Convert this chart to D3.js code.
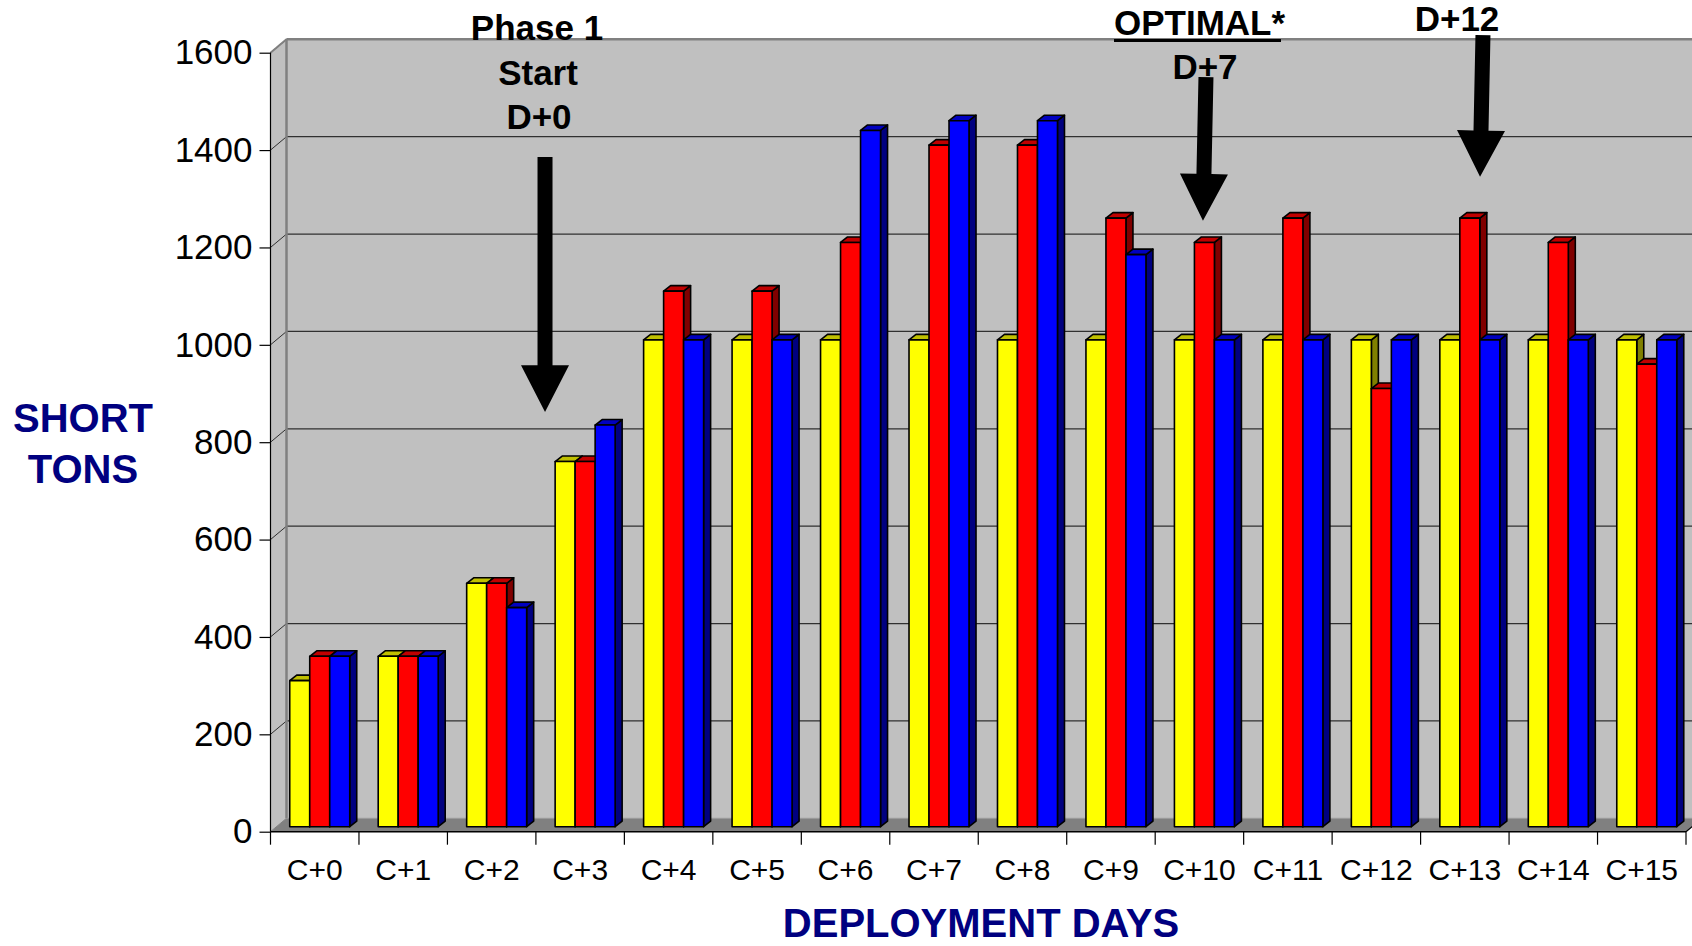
<!DOCTYPE html>
<html>
<head>
<meta charset="utf-8">
<script src="https://cdn.jsdelivr.net/npm/d3@7"></script>
<style>
  html, body { margin: 0; padding: 0; background: #ffffff; }
  svg { display: block; }
  text { font-family: "Liberation Sans", Arial, sans-serif; }
</style>
</head>
<body>
<svg id="chart" width="1692" height="946"></svg>
<script>
// ---------------- data ----------------
const categories = ["C+0","C+1","C+2","C+3","C+4","C+5","C+6","C+7","C+8","C+9","C+10","C+11","C+12","C+13","C+14","C+15"];
const seriesKeys = ["yellow","red","blue"];
const yellowValues = [300,350,500,750,1000,1000,1000,1000,1000,1000,1000,1000,1000,1000,1000,1000];
const redValues    = [350,350,500,750,1100,1100,1200,1400,1400,1250,1200,1250,900,1250,1200,950];
const blueValues   = [350,350,450,825,1000,1000,1430,1450,1450,1175,1000,1000,1000,1000,1000,1000];
const yTickValues  = [0,200,400,600,800,1000,1200,1400,1600];
const yTitleLines  = ["SHORT","TONS"];
const xTitle       = "DEPLOYMENT DAYS";

// annotation arrows in data units (category position, value)
const arrowTopCat  = [3.103, 10.574, 13.705];
const arrowTopVal  = [1386, 1550, 1636];
const arrowTipCat  = [3.103, 10.54, 13.672];
const arrowTipVal  = [862, 1255, 1345];
const arrowHeadVal = [958, 1351, 1440];

// ---------------- layout ----------------
const frontLeft = 270.5, frontRight = 1686;
const frontBottom = 831.7, frontTop = 52.7;
const wallDX = 16, wallDY = 13.4;
const barDX = 7, barDY = 5.5;          // bar depth
const barShiftX = 5, barShiftY = 5;    // bar placed a bit inside the floor
const barW = 20;

const colors = {
  yellow: {front:"#FFFF00", top:"#C0C000", side:"#808000"},
  red:    {front:"#FF0000", top:"#C00000", side:"#800000"},
  blue:   {front:"#0000FF", top:"#0000C0", side:"#000080"}
};
const valuesBySeries = {yellow: yellowValues, red: redValues, blue: blueValues};

const svg = d3.select("#chart");

const x = d3.scaleBand().domain(categories).range([frontLeft, frontRight]).padding(0);
const xs = d3.scaleBand().domain(seriesKeys).range([0, barW*3]).padding(0);
const y = d3.scaleLinear().domain([0,1600]).range([frontBottom, frontTop]);
const catPos = d3.scaleLinear().domain([0, categories.length]).range([frontLeft, frontRight]);

// ---------------- walls & floor ----------------
const wallLeft = frontLeft + wallDX, wallTop = frontTop - wallDY, wallBottom = frontBottom - wallDY;

svg.append("rect")
  .attr("x", wallLeft).attr("y", wallTop)
  .attr("width", 1800 - wallLeft).attr("height", wallBottom - wallTop)
  .attr("fill", "#C0C0C0");
svg.append("polygon")
  .attr("points", [[frontLeft, frontTop],[wallLeft, wallTop],[wallLeft, wallBottom],[frontLeft, frontBottom]].join(" "))
  .attr("fill", "#C0C0C0").attr("stroke", "#808080").attr("stroke-width", 1);
svg.append("polygon")
  .attr("points", [[frontLeft, frontBottom],[wallLeft, wallBottom],[frontRight + wallDX, wallBottom],[frontRight, frontBottom]].join(" "))
  .attr("fill", "#808080");

const grid = svg.append("g");
yTickValues.filter(v => v > 0).forEach(v => {
  if (v < 1600) {
    grid.append("line")
      .attr("x1", wallLeft).attr("x2", 1800)
      .attr("y1", y(v) - wallDY).attr("y2", y(v) - wallDY)
      .attr("stroke", "#303030").attr("stroke-width", 1.2);
  }
  grid.append("line")
    .attr("x1", frontLeft).attr("y1", y(v))
    .attr("x2", wallLeft).attr("y2", y(v) - wallDY)
    .attr("stroke", "#303030").attr("stroke-width", 1);
});
svg.append("line").attr("x1", wallLeft).attr("x2", 1800).attr("y1", wallTop).attr("y2", wallTop)
  .attr("stroke", "#808080").attr("stroke-width", 2.5);
svg.append("line").attr("x1", wallLeft).attr("x2", wallLeft).attr("y1", wallTop).attr("y2", wallBottom)
  .attr("stroke", "#808080").attr("stroke-width", 2.5);
svg.append("line").attr("x1", frontLeft).attr("x2", wallLeft).attr("y1", frontTop).attr("y2", wallTop)
  .attr("stroke", "#808080").attr("stroke-width", 2);
svg.append("line").attr("x1", wallLeft).attr("x2", frontRight + wallDX).attr("y1", wallBottom).attr("y2", wallBottom)
  .attr("stroke", "#999999").attr("stroke-width", 1);

// ---------------- bars ----------------
const bars = svg.append("g");
const groupOffset = (x.bandwidth() - barW*3) / 2 + barShiftX;
categories.forEach((c, i) => {
  seriesKeys.forEach(k => {
    const v = valuesBySeries[k][i];
    const bx = x(c) + groupOffset + xs(k);
    const bw = xs.bandwidth();
    const yt = y(v) - barShiftY, yb = y(0) - barShiftY;
    const col = colors[k];
    const g = bars.append("g")
      .attr("stroke", "#000").attr("stroke-width", 1.6).attr("stroke-linejoin", "round");
    g.append("polygon")
      .attr("points", [[bx+bw, yt],[bx+bw+barDX, yt-barDY],[bx+bw+barDX, yb-barDY],[bx+bw, yb]].join(" "))
      .attr("fill", col.side);
    g.append("polygon")
      .attr("points", [[bx, yt],[bx+bw, yt],[bx+bw+barDX, yt-barDY],[bx+barDX, yt-barDY]].join(" "))
      .attr("fill", col.top);
    g.append("rect")
      .attr("x", bx).attr("y", yt).attr("width", bw).attr("height", yb - yt)
      .attr("fill", col.front);
  });
});

// ---------------- axes ----------------
svg.append("line").attr("x1", frontLeft).attr("x2", frontLeft).attr("y1", frontTop).attr("y2", frontBottom)
  .attr("stroke", "#000").attr("stroke-width", 1.2);
const yAxis = d3.axisLeft(y).tickValues(yTickValues).tickSize(11).tickPadding(7).tickFormat(d3.format("d"));
const yg = svg.append("g").attr("transform", `translate(${frontLeft},0)`).call(yAxis);
yg.select(".domain").remove();
yg.selectAll(".tick line").attr("stroke", "#000").attr("stroke-width", 1.2);
yg.selectAll(".tick text").attr("font-size", 35).attr("fill", "#000")
  .attr("font-family", "'Liberation Sans', Arial, sans-serif");

svg.append("line").attr("x1", frontLeft).attr("x2", frontRight).attr("y1", frontBottom).attr("y2", frontBottom)
  .attr("stroke", "#000").attr("stroke-width", 1.5);
svg.append("line").attr("x1", frontRight).attr("x2", frontRight + wallDX).attr("y1", frontBottom).attr("y2", wallBottom)
  .attr("stroke", "#000").attr("stroke-width", 1.2);
d3.range(categories.length + 1).forEach(i => {
  svg.append("line").attr("x1", catPos(i)).attr("x2", catPos(i))
    .attr("y1", frontBottom).attr("y2", frontBottom + 13)
    .attr("stroke", "#000").attr("stroke-width", 1.2);
});
const xAxis = d3.axisBottom(x).tickSize(0).tickPadding(0);
const xg = svg.append("g").attr("transform", `translate(0,${frontBottom})`).call(xAxis);
xg.select(".domain").remove();
xg.selectAll(".tick text").attr("font-size", 30).attr("fill", "#000")
  .attr("font-family", "'Liberation Sans', Arial, sans-serif")
  .attr("y", 48).attr("dy", 0);

// ---------------- titles ----------------
const yTitle = svg.append("text").attr("text-anchor", "middle")
  .attr("font-size", 40).attr("font-weight", "bold").attr("fill", "#000080");
yTitle.append("tspan").attr("x", 83).attr("y", 432).text(yTitleLines[0]);
yTitle.append("tspan").attr("x", 83).attr("y", 483).text(yTitleLines[1]);

svg.append("text").attr("x", 981).attr("y", 937).attr("text-anchor", "middle")
  .attr("font-size", 40).attr("font-weight", "bold").attr("fill", "#000080")
  .text(xTitle);

// ---------------- annotations ----------------
const ann = svg.append("g").attr("font-weight", "bold").attr("fill", "#000").attr("font-size", 35)
  .attr("text-anchor", "middle");
ann.append("text").attr("x", 537).attr("y", 40).text("Phase 1");
ann.append("text").attr("x", 538).attr("y", 85).text("Start");
ann.append("text").attr("x", 539).attr("y", 129).text("D+0");

const opt = ann.append("text").attr("x", 1114).attr("y", 35).attr("text-anchor", "start");
opt.append("tspan").text("OPTIMAL");
opt.append("tspan").text("*");
ann.append("line").attr("x1", 1114).attr("x2", 1281).attr("y1", 40.5).attr("y2", 40.5)
  .attr("stroke", "#000").attr("stroke-width", 3);
ann.append("text").attr("x", 1205).attr("y", 79).text("D+7");
ann.append("text").attr("x", 1457).attr("y", 31).text("D+12");

// arrows
const arrows = svg.append("g");
const shaftHalf = 7.5, headHalf = 24;
arrowTopCat.forEach((_, i) => {
  const x1 = catPos(arrowTopCat[i]), y1 = y(arrowTopVal[i]);
  const x2 = catPos(arrowTipCat[i]), y2 = y(arrowTipVal[i]);
  const yh = y(arrowHeadVal[i]);
  const len = Math.hypot(x2 - x1, y2 - y1);
  const ux = (x2 - x1) / len, uy = (y2 - y1) / len;
  const nx = -uy, ny = ux;
  const t = (yh - y1) / uy;
  const hx = x1 + ux * t, hy = y1 + uy * t;
  const pts = [
    [x1 + nx*shaftHalf, y1 + ny*shaftHalf],
    [hx + nx*shaftHalf, hy + ny*shaftHalf],
    [hx + nx*headHalf, hy + ny*headHalf],
    [x2, y2],
    [hx - nx*headHalf, hy - ny*headHalf],
    [hx - nx*shaftHalf, hy - ny*shaftHalf],
    [x1 - nx*shaftHalf, y1 - ny*shaftHalf]
  ];
  arrows.append("polygon").attr("points", pts.map(p => p.join(",")).join(" ")).attr("fill", "#000");
});
</script>
</body>
</html>
